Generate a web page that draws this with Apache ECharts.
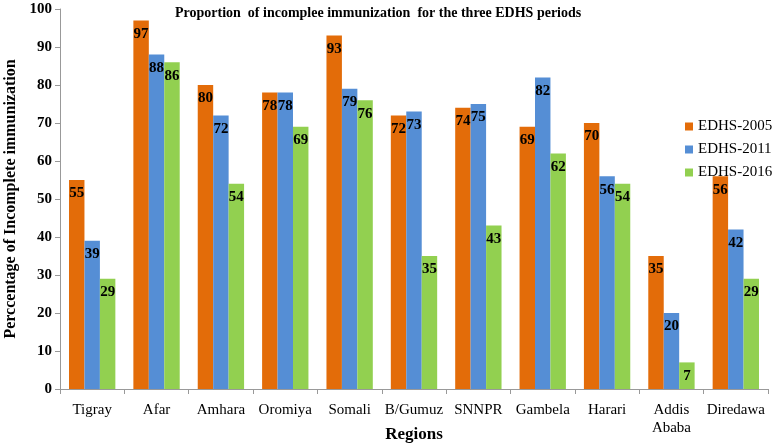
<!DOCTYPE html>
<html><head><meta charset="utf-8">
<script src="https://cdn.jsdelivr.net/npm/echarts@6/dist/echarts.min.js"></script>
<style>html,body{margin:0;padding:0;background:#fff}#c{width:778px;height:447px}</style>
</head><body><div id="c"></div>
<script>
var categories = ['Tigray','Afar','Amhara','Oromiya','Somali','B/Gumuz','SNNPR','Gambela','Harari','Addis\nAbaba','Diredawa'];
var edhs2005 = [55,97,80,78,93,72,74,69,70,35,56];
var edhs2011 = [39,88,72,78,79,73,75,82,56,20,42];
var edhs2016 = [29,86,54,69,76,35,43,62,54,7,29];
var yTicks = [0,10,20,30,40,50,60,70,80,90,100];

var serif = '"Liberation Serif","Times New Roman",serif';
var lbl = {show:true, position:'insideTop', distance:6, color:'#000', fontFamily:serif, fontWeight:'bold', fontSize:15};
function s(name, data, color){
  return {name:name, type:'bar', data:data, itemStyle:{color:color}, label:lbl, barGap:'0%', barCategoryGap:'28%'};
}
var chart = echarts.init(document.getElementById('c'));
chart.setOption({
  animation:false,
  title:{text:'Proportion  of incomplee immunization  for the three EDHS periods', left:170, top:1,
    textStyle:{fontFamily:serif, fontWeight:'bold', fontSize:14, color:'#000'}},
  legend:{orient:'vertical', left:680, top:114, itemWidth:8, itemHeight:8, itemGap:8, icon:'rect',
    textStyle:{fontFamily:serif, fontSize:15, color:'#000'},
    data:['EDHS-2005','EDHS-2011','EDHS-2016']},
  grid:{left:60, right:10, top:9, bottom:58, containLabel:false, outerBoundsMode:'none'},
  xAxis:{type:'category', data:categories,
    axisLine:{lineStyle:{color:'#999'}},
    axisTick:{show:true, alignWithLabel:false, length:5, lineStyle:{color:'#999'}},
    axisLabel:{fontFamily:serif, fontSize:15, color:'#000', margin:12, interval:0, lineHeight:18},
    name:'Regions', nameLocation:'middle', nameGap:37, nameMoveOverlap:false,
    nameTextStyle:{fontFamily:serif, fontWeight:'bold', fontSize:17, color:'#000'}},
  yAxis:{type:'value', min:0, max:100, interval:10,
    axisLine:{show:true, lineStyle:{color:'#999'}},
    axisTick:{show:true, length:5, lineStyle:{color:'#999'}},
    splitLine:{show:false},
    axisLabel:{fontFamily:serif, fontWeight:'bold', fontSize:15, color:'#000', margin:8,
      formatter:function(v){return yTicks.indexOf(v)>=0 ? String(v) : '';}},
    name:'Perccentage of Incomplete immunization', nameLocation:'middle', nameGap:41, nameMoveOverlap:false,
    nameTextStyle:{fontFamily:serif, fontWeight:'bold', fontSize:16, color:'#000'}},
  series:[s('EDHS-2005',edhs2005,'#E36C09'), s('EDHS-2011',edhs2011,'#558ED5'), s('EDHS-2016',edhs2016,'#92D050')]
});
</script></body></html>
